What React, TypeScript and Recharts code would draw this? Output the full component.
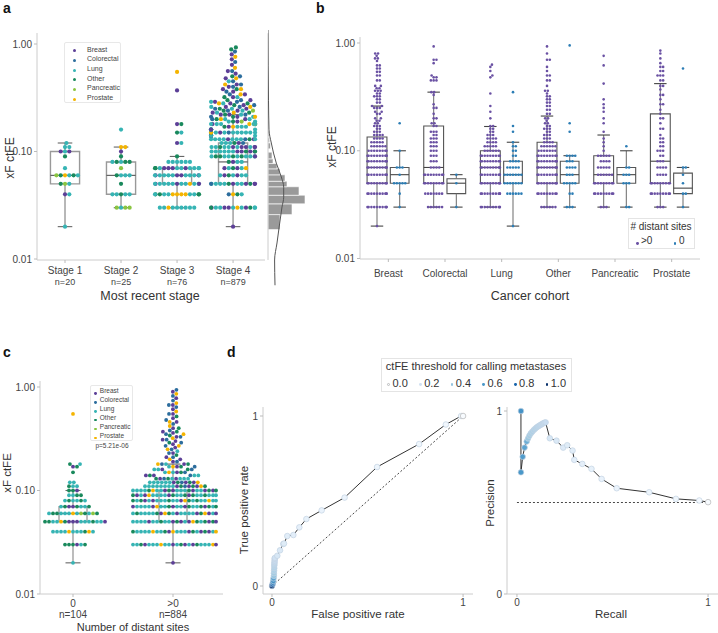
import React from 'react';
import { ScatterChart, Scatter, XAxis, YAxis, ReferenceArea, ReferenceLine } from 'recharts';

const FONT = '"Liberation Sans", Arial, Helvetica, sans-serif';
const TEXT = '#333333';
const AXIS = '#cccccc';
const TICK = { fontSize: 10, fill: '#444444', fontFamily: FONT };

// cancer types
const typeCodes = ['B', 'C', 'L', 'O', 'P', 'S'];
const typeNames = ['Breast', 'Colorectal', 'Lung', 'Other', 'Pancreatic', 'Prostate'];
const typeColors = ['#5c3f97', '#2c6d9d', '#36b4b4', '#19895c', '#8ac541', '#f4b400'];
const colorOf = (c: string) => typeColors[typeCodes.indexOf(c)];

// ---- panel a: xF ctFE by stage (value, cancer types of the dots at that value)
const stageLabels = ['Stage 1', 'Stage 2', 'Stage 3', 'Stage 4'];
const stageN = [20, 25, 76, 879];
const stage1Rows: [number, string][] = [
  [0.02, 'L'], [0.04, 'BL'], [0.05, 'PLO'], [0.06, 'SLOOPL'], [0.07, 'L'],
  [0.09, 'O'], [0.1, 'LBB'], [0.11, 'LL'], [0.12, 'L'],
];
const stage2Rows: [number, string][] = [
  [0.03, 'LPPP'], [0.04, 'OLLLL'], [0.05, 'O'], [0.06, 'LLOL'], [0.07, 'P'],
  [0.08, 'LOOOL'], [0.09, 'O'], [0.1, 'B'], [0.11, 'SS'], [0.16, 'L'],
];
const stage3Rows: [number, string][] = [
  [0.03, 'LLLLSLLLL'], [0.04, 'SSSSLLLLOOOOL'], [0.05, 'BLLLLSLLLLBBL'], [0.06, 'BBLLLLLLLBBLL'],
  [0.07, 'LLBBBLBLLLOLO'], [0.08, 'LLLLLL'], [0.09, 'O'], [0.12, 'BL'], [0.15, 'OL'],
  [0.18, 'BO'], [0.37, 'B'], [0.55, 'S'],
];
const stage4Rows: [number, string][] = [
  [0.02, 'B'], [0.03, 'LSBLBBLOLLBLO'], [0.04, 'SOCL'], [0.05, 'BLOLLBLOLBLBC'], [0.06, 'LBOLBLL'],
  [0.07, 'OBLLBS'], [0.08, 'BLOL'], [0.09, 'OLLOLLOLOLLB'], [0.1, 'LBLBLOLBLBLO'], [0.11, 'BLLBLBOLLBLB'],
  [0.12, 'OLBLCL'], [0.13, 'LLBLLCLOLBLL'], [0.14, 'BLOLCLBL'], [0.15, 'LLCLLLBLLOLS'], [0.16, 'BLLCLOLB'],
  [0.17, 'SLBLOL'], [0.18, 'LSLLBLLCLLSL'], [0.19, 'OBLPL'], [0.2, 'LBSLOC'],
  [0.21, 'OBLCS'], [0.22, 'BLOCB'], [0.23, 'SOLB'], [0.24, 'BCLOP'], [0.25, 'LBOC'], [0.26, 'CBSL'],
  [0.27, 'OBC'], [0.28, 'BLSO'], [0.29, 'CBL'], [0.3, 'OCB'], [0.32, 'BLO'], [0.34, 'CSB'],
  [0.36, 'BC'], [0.38, 'OSB'], [0.4, 'CB'], [0.42, 'BSC'], [0.45, 'CL'], [0.48, 'SB'],
  [0.5, 'OC'], [0.53, 'B'], [0.56, 'CB'], [0.6, 'S'], [0.64, 'B'], [0.68, 'C'],
  [0.72, 'B'], [0.76, 'S'], [0.8, 'B'], [0.85, 'C'], [0.89, 'O'], [0.93, 'O'],
];
const stageRows = [stage1Rows, stage2Rows, stage3Rows, stage4Rows];
const stageLo = [0.02, 0.03, 0.03, 0.02];
const stageQ1 = [0.05, 0.04, 0.05, 0.05];
const stageMed = [0.06, 0.06, 0.06, 0.08];
const stageQ3 = [0.1, 0.08, 0.07, 0.12];
const stageHi = [0.12, 0.11, 0.09, 0.22];

// marginal histogram and density of panel a
const histLo = [0.0188, 0.0259, 0.0326, 0.0392, 0.047, 0.0529, 0.0607, 0.069, 0.0773, 0.0855, 0.106, 0.122, 0.138, 0.16, 0.2, 0.26];
const histHi = [0.0259, 0.0326, 0.0392, 0.047, 0.0529, 0.0607, 0.069, 0.0773, 0.0855, 0.0985, 0.12, 0.134, 0.155, 0.19, 0.24, 0.32];
const histCount = [60, 120, 185, 155, 95, 85, 60, 45, 25, 20, 12, 8, 6, 4, 3, 2];
const kdeValue = [1.35, 0.3, 0.159, 0.12, 0.078, 0.058, 0.0466, 0.0376, 0.0305, 0.0216, 0.0141, 0.0098, 0.0057];
const kdeDensity = [0, 2.5, 5, 16.5, 41.5, 66.5, 78.5, 78.5, 70, 58.5, 45, 33, 35];

// ---- panel b: by cohort, >0 vs 0 distant sites (value, number of dots)
const cohortPos: [number, number][][] = [
  [[0.02, 1], [0.03, 10], [0.04, 10], [0.05, 10], [0.06, 10], [0.07, 10], [0.08, 10], [0.09, 10], [0.1, 8], [0.11, 6],
   [0.12, 5], [0.13, 4], [0.14, 4], [0.15, 3], [0.16, 2], [0.17, 3], [0.18, 2], [0.19, 2], [0.2, 2], [0.22, 2], [0.23, 2],
   [0.25, 3], [0.26, 2], [0.28, 2], [0.3, 2], [0.32, 3], [0.34, 2], [0.36, 3], [0.38, 2], [0.4, 2], [0.45, 2], [0.5, 2],
   [0.54, 2], [0.58, 2], [0.62, 2], [0.68, 1], [0.72, 2], [0.76, 1], [0.8, 2]],
  [[0.03, 6], [0.04, 7], [0.05, 9], [0.06, 9], [0.07, 4], [0.08, 3], [0.09, 3], [0.1, 3], [0.11, 3], [0.12, 3], [0.13, 3],
   [0.14, 2], [0.15, 3], [0.17, 2], [0.18, 2], [0.2, 2], [0.22, 1], [0.25, 2], [0.27, 1], [0.33, 1], [0.35, 2], [0.45, 3],
   [0.48, 2], [0.5, 1], [0.65, 1], [0.7, 2], [0.93, 1]],
  [[0.03, 10], [0.04, 10], [0.05, 10], [0.06, 10], [0.07, 10], [0.08, 9], [0.09, 9], [0.1, 6], [0.11, 5], [0.12, 4],
   [0.13, 4], [0.14, 3], [0.15, 2], [0.16, 2], [0.17, 2], [0.2, 1], [0.23, 1], [0.26, 1], [0.34, 1], [0.48, 1], [0.5, 1],
   [0.55, 1], [0.6, 1], [0.63, 1]],
  [[0.03, 6], [0.04, 9], [0.05, 10], [0.06, 10], [0.07, 10], [0.08, 10], [0.09, 9], [0.1, 7], [0.11, 6], [0.12, 4],
   [0.13, 3], [0.14, 3], [0.15, 2], [0.16, 3], [0.17, 2], [0.18, 2], [0.19, 1], [0.2, 2], [0.22, 2], [0.24, 2], [0.26, 2],
   [0.28, 2], [0.3, 2], [0.32, 2], [0.34, 1], [0.36, 2], [0.4, 1], [0.45, 2], [0.5, 2], [0.55, 1], [0.6, 1], [0.7, 2],
   [0.8, 1], [0.93, 1]],
  [[0.03, 3], [0.04, 9], [0.05, 9], [0.06, 6], [0.07, 5], [0.08, 4], [0.09, 5], [0.1, 1], [0.11, 1], [0.12, 1], [0.13, 1],
   [0.15, 1], [0.18, 1], [0.2, 1], [0.23, 1], [0.25, 1], [0.27, 1], [0.3, 1], [0.42, 1], [0.62, 1], [0.76, 1]],
  [[0.03, 3], [0.04, 9], [0.05, 9], [0.06, 4], [0.07, 4], [0.08, 3], [0.09, 2], [0.1, 3], [0.11, 2], [0.12, 2], [0.13, 2],
   [0.14, 1], [0.16, 2], [0.18, 1], [0.2, 2], [0.22, 1], [0.24, 1], [0.27, 2], [0.3, 1], [0.33, 2], [0.37, 1], [0.4, 2],
   [0.45, 2], [0.5, 3], [0.55, 2], [0.6, 2], [0.65, 1], [0.72, 1], [0.8, 1], [0.85, 1]],
];
const cohortZero: [number, number][][] = [
  [[0.03, 1], [0.04, 1], [0.05, 5], [0.06, 1], [0.07, 3], [0.1, 1], [0.18, 1]],
  [[0.03, 1], [0.05, 1], [0.06, 1]],
  [[0.02, 1], [0.04, 6], [0.05, 7], [0.06, 7], [0.07, 5], [0.08, 4], [0.09, 2], [0.1, 2], [0.11, 2], [0.12, 1], [0.15, 1], [0.17, 1], [0.35, 1]],
  [[0.03, 3], [0.04, 2], [0.05, 5], [0.06, 3], [0.07, 4], [0.08, 3], [0.09, 4], [0.15, 1], [0.18, 1], [0.95, 1]],
  [[0.03, 2], [0.05, 3], [0.06, 3], [0.07, 2], [0.11, 1]],
  [[0.03, 1], [0.04, 2], [0.05, 1], [0.06, 1], [0.07, 2], [0.58, 1]],
];
const posLo = [0.02, 0.03, 0.03, 0.03, 0.03, 0.03];
const posQ1 = [0.05, 0.05, 0.05, 0.05, 0.05, 0.05];
const posMed = [0.07, 0.07, 0.07, 0.07, 0.06, 0.08];
const posQ3 = [0.134, 0.17, 0.1, 0.12, 0.09, 0.22];
const posHi = [0.26, 0.35, 0.168, 0.21, 0.14, 0.42];
const zeroLo = [0.03, 0.03, 0.02, 0.03, 0.03, 0.03];
const zeroQ1 = [0.05, 0.04, 0.05, 0.05, 0.05, 0.04];
const zeroMed = [0.06, 0.05, 0.06, 0.06, 0.06, 0.045];
const zeroQ3 = [0.07, 0.055, 0.08, 0.08, 0.07, 0.062];
const zeroHi = [0.1, 0.06, 0.12, 0.09, 0.1, 0.07];

// ---- panel c: by number of distant sites
const sitesLabels = ['0', '>0'];
const sitesN = [104, 884];
const sitesZeroRows: [number, string][] = [
  [0.02, 'L'], [0.03, 'OBOLOO'], [0.04, 'LLSLLOLSLLL'], [0.05, 'BBBLOLSLLOLLOLOB'], [0.06, 'SLLPLOLLOPOOL'],
  [0.07, 'BOBLOLLO'], [0.08, 'LLOOLL'], [0.09, 'LOLO'], [0.1, 'OBO'], [0.11, 'LLO'], [0.12, 'LL'],
  [0.15, 'O'], [0.17, 'BO'], [0.18, 'OL'], [0.55, 'S'],
];
const sitesPosRows: [number, string][] = [
  [0.02, 'B'],
  [0.03, 'BLLOLBSLLBLOLLBLOLLSLB'], [0.04, 'SLBLOLLBLOSLLBLOLBLLOS'], [0.05, 'BOLBLLOBLSLOBLLOLBLOLB'],
  [0.06, 'LBOLSLBLOLLBLOLSLBOLLB'], [0.07, 'BLOLLBLOSLBLLOLBLOLLBO'], [0.08, 'LLOBLSLOLLBOLLBLOSLLOL'],
  [0.09, 'OLBLLOLBLOLLSLBOLLBLOL'], [0.1, 'BLOLBLLOLBSLOLLBLOLBLO'], [0.11, 'LBLOLCLBLOLBLSLO'],
  [0.12, 'BLOLCLBLOLBLS'], [0.13, 'LBOLCLBLO'], [0.14, 'CBLOLB'], [0.15, 'LBSOLC'], [0.16, 'BOLCL'],
  [0.17, 'SBLOC'], [0.18, 'LBCOS'], [0.19, 'BC'], [0.2, 'SB'], [0.21, 'CB'], [0.22, 'O'],
  [0.23, 'BC'], [0.24, 'L'], [0.25, 'CS'], [0.26, 'B'], [0.27, 'SC'], [0.28, 'B'], [0.29, 'OC'],
  [0.3, 'B'], [0.31, 'CB'], [0.32, 'S'], [0.33, 'BC'], [0.34, 'O'], [0.35, 'CS'], [0.36, 'B'],
  [0.37, 'OB'], [0.38, 'C'], [0.4, 'BO'], [0.42, 'S'], [0.44, 'C'], [0.46, 'SB'], [0.48, 'C'],
  [0.5, 'B'], [0.52, 'O'], [0.55, 'BC'], [0.58, 'S'], [0.61, 'B'], [0.64, 'C'], [0.67, 'BC'],
  [0.7, 'S'], [0.74, 'C'], [0.78, 'B'], [0.82, 'C'], [0.86, 'S'], [0.9, 'B'], [0.94, 'C'],
];
const sitesLo = [0.02, 0.02];
const sitesQ1 = [0.05, 0.05];
const sitesMed = [0.06, 0.07];
const sitesQ3 = [0.07, 0.1];
const sitesHi = [0.1, 0.18];

// ---- panel d: ROC and precision-recall, coloured by ctFE threshold
const rocFpr = [0, 0.003, 0.005, 0.007, 0.008, 0.01, 0.01, 0.011, 0.012, 0.012, 0.013, 0.013, 0.014, 0.014, 0.015,
  0.028, 0.042, 0.059, 0.063, 0.08, 0.112, 0.143, 0.18, 0.26, 0.38, 0.55, 0.77, 0.91, 0.99, 1.0];
const rocTpr = [0, 0.01, 0.02, 0.03, 0.045, 0.06, 0.075, 0.09, 0.105, 0.12, 0.13, 0.14, 0.15, 0.16, 0.165,
  0.178, 0.21, 0.247, 0.25, 0.294, 0.3, 0.345, 0.394, 0.445, 0.52, 0.7, 0.835, 0.95, 1.0, 1.0];
const rocThr = [1.0, 0.85, 0.7, 0.62, 0.55, 0.4, 0.36, 0.33, 0.31, 0.3, 0.28, 0.26, 0.24, 0.22, 0.2,
  0.16, 0.14, 0.13, 0.12, 0.11, 0.1, 0.09, 0.08, 0.07, 0.06, 0.05, 0.04, 0.03, 0.01, 0.0];
const prRecall = [0.021, 0.021, 0.03, 0.04, 0.051, 0.058, 0.065, 0.072, 0.08, 0.088, 0.096, 0.104, 0.112, 0.12, 0.128,
  0.136, 0.143, 0.15, 0.172, 0.207, 0.242, 0.263, 0.291, 0.3, 0.342, 0.39, 0.443, 0.522, 0.692, 0.832, 0.954, 1.0];
const prPrecision = [1.0, 0.665, 0.75, 0.8, 0.833, 0.85, 0.865, 0.877, 0.887, 0.896, 0.904, 0.911, 0.917, 0.922, 0.927,
  0.932, 0.936, 0.938, 0.851, 0.838, 0.8, 0.813, 0.784, 0.733, 0.711, 0.684, 0.629, 0.578, 0.556, 0.52, 0.511, 0.502];
const prThr = [0.62, 0.6, 0.58, 0.55, 0.5, 0.38, 0.36, 0.34, 0.33, 0.32, 0.31, 0.3, 0.29, 0.28, 0.27,
  0.26, 0.25, 0.24, 0.16, 0.14, 0.13, 0.12, 0.11, 0.1, 0.09, 0.08, 0.07, 0.06, 0.05, 0.04, 0.02, 0.0];
const thrLegend = [0.0, 0.2, 0.4, 0.6, 0.8, 1.0];

const blueStops = ['#f7fbff', '#deebf7', '#c6dbef', '#9ecae1', '#6baed6', '#4292c6', '#2171b5', '#08519c', '#08306b'];
function blues(t: number) {
  const s = Math.max(0, Math.min(1, t)) * (blueStops.length - 1);
  const i = Math.min(Math.floor(s), blueStops.length - 2);
  const f = s - i;
  const a = blueStops[i], b = blueStops[i + 1];
  const ch = (h: string, k: number) => parseInt(h.slice(1 + 2 * k, 3 + 2 * k), 16);
  const mix = [0, 1, 2].map((k) => Math.round(ch(a, k) + (ch(b, k) - ch(a, k)) * f));
  return `rgb(${mix.join(',')})`;
}

// beeswarm layout in pixels, gutter clamped at +-hw
type Item = { v: number; color: string };
function swarm(items: Item[], xc: number, P: number, d: number, hw: number) {
  const order = items.map((_, i) => i).sort((a, b) => items[a].v - items[b].v || a - b);
  const placed: { x: number; y: number }[] = [];
  const out: any[] = [];
  for (const i of order) {
    const y = Math.log10(items[i].v) * P;
    const near = placed.filter((p) => Math.abs(p.y - y) < d);
    const cands = [0];
    near.forEach((p) => {
      const s = Math.sqrt(d * d - (p.y - y) ** 2);
      cands.push(p.x + s, p.x - s);
    });
    cands.sort((a, b) => Math.abs(a) - Math.abs(b));
    let best = cands[cands.length - 1];
    for (const c of cands) {
      if (near.every((p) => (p.x - c) ** 2 + (p.y - y) ** 2 >= d * d - 0.01)) { best = c; break; }
    }
    if (Math.abs(best) > hw) best = Math.sign(best) * hw;
    placed.push({ x: best, y });
    out.push({ x: xc, y: items[i].v, dx: best, color: items[i].color });
  }
  return out;
}
const typedItems = (rows: [number, string][]) =>
  rows.flatMap(([v, s]) => s.split('').map((c) => ({ v, color: colorOf(c) })));
const countItems = (rows: [number, number][], color: string) =>
  rows.flatMap(([v, n]) => Array.from({ length: n }, () => ({ v, color })));

const dot = (r: number) => (p: any) => (
  <circle cx={p.cx + (p.payload.dx || 0)} cy={p.cy} r={r} fill={p.payload.color} />
);
const marker = (p: any) => (
  <circle cx={p.cx} cy={p.cy} r={2.8} fill={p.payload.color}
    stroke={p.payload.thr === 0 ? '#b5b5b5' : '#c3d2e3'} strokeWidth={0.7} />
);
const fmt2 = (v: number) => v.toFixed(2);

type BoxStyle = { box: string; w: number; med: string; whisk: string; cap: string };
function boxElements(key: string, cx: number, half: number, cap: number,
  lo: number, q1: number, med: number, q3: number, hi: number, st: BoxStyle) {
  return [
    <ReferenceLine key={key + 'wl'} segment={[{ x: cx, y: q1 }, { x: cx, y: lo }]} stroke={st.whisk} strokeWidth={st.w} />,
    <ReferenceLine key={key + 'wh'} segment={[{ x: cx, y: q3 }, { x: cx, y: hi }]} stroke={st.whisk} strokeWidth={st.w} />,
    <ReferenceLine key={key + 'cl'} segment={[{ x: cx - cap, y: lo }, { x: cx + cap, y: lo }]} stroke={st.cap} strokeWidth={1.1} />,
    <ReferenceLine key={key + 'ch'} segment={[{ x: cx - cap, y: hi }, { x: cx + cap, y: hi }]} stroke={st.cap} strokeWidth={1.1} />,
    <ReferenceArea key={key + 'b'} x1={cx - half} x2={cx + half} y1={q1} y2={q3} fill="none" fillOpacity={0}
      stroke={st.box} strokeWidth={st.w} strokeOpacity={1} />,
    <ReferenceLine key={key + 'm'} segment={[{ x: cx - half, y: med }, { x: cx + half, y: med }]} stroke={st.med} strokeWidth={1.1} />,
  ];
}

function Txt({ x, y, size, children, rotate = false, bold = false, left = false, color = TEXT }: any) {
  return (
    <div style={{
      position: 'absolute', left: x, top: y, fontSize: size, fontFamily: FONT, color, lineHeight: 1,
      whiteSpace: 'nowrap', fontWeight: bold ? 700 : 400,
      transform: `translate(${left ? '0' : '-50%'}, -50%)${rotate ? ' rotate(-90deg)' : ''}`,
    }}>{children}</div>
  );
}
const Dot = ({ size, color, border }: any) => (
  <span style={{ display: 'inline-block', width: size, height: size, borderRadius: '50%', background: color,
    border: border ? `0.6px solid ${border}` : 'none', boxSizing: 'border-box' }} />
);

// ---------------- panel a
const A_LO = 0.00979, A_HI = 1.266, A_P = 227 / (Math.log10(A_HI) - Math.log10(A_LO));
function PanelA() {
  const st: BoxStyle = { box: '#999999', w: 1.4, med: '#555555', whisk: '#999999', cap: '#666666' };
  const stageTick = (p: any) => (
    <g>
      <text x={p.x} y={p.y + 9} textAnchor="middle" fontSize={10} fill="#444" fontFamily={FONT}>{stageLabels[p.payload.value]}</text>
      <text x={p.x} y={p.y + 20} textAnchor="middle" fontSize={9} fill="#444" fontFamily={FONT}>n={stageN[p.payload.value]}</text>
    </g>
  );
  return (
    <div style={{ position: 'absolute', left: 0, top: 0 }}>
      <ScatterChart width={268} height={300} margin={{ top: 33, right: 3, bottom: 0, left: 0 }}>
        <XAxis type="number" dataKey="x" domain={[-0.5, 3.57]} allowDataOverflow ticks={[0, 1, 2, 3]}
          tick={stageTick} tickSize={3} height={40} axisLine={{ stroke: AXIS }} tickLine={{ stroke: '#bbb' }} />
        <YAxis type="number" dataKey="y" scale="log" domain={[A_LO, A_HI]} allowDataOverflow ticks={[0.01, 0.1, 1]}
          tickFormatter={fmt2} width={37} tickSize={3} tick={TICK} axisLine={{ stroke: AXIS }} tickLine={{ stroke: '#bbb' }} />
        {stageLabels.flatMap((_, i) => boxElements('a' + i, i, 0.26, 0.13, stageLo[i], stageQ1[i], stageMed[i], stageQ3[i], stageHi[i], st))}
        {stageRows.map((rows, i) => (
          <Scatter key={i} data={swarm(typedItems(rows), i, A_P, 4.3, 22)} shape={dot(2.1)} isAnimationActive={false} />
        ))}
      </ScatterChart>
    </div>
  );
}

function Marginal() {
  const kde = kdeValue.map((v, i) => ({ x: kdeDensity[i], y: v }));
  return (
    <div style={{ position: 'absolute', left: 262, top: 0 }}>
      <ScatterChart width={50} height={300} margin={{ top: 30, right: 4, bottom: 14, left: 6 }}>
        <XAxis type="number" dataKey="x" domain={[0, 200]} hide allowDataOverflow />
        <YAxis type="number" dataKey="y" scale="log" domain={[0.00561, 1.35]} allowDataOverflow hide width={0} />
        <ReferenceLine segment={[{ x: 0, y: 1.26 }, { x: 0, y: 0.0098 }]} stroke={AXIS} strokeWidth={1} />
        {histCount.map((c, i) => (
          <ReferenceArea key={i} x1={0} x2={c} y1={histLo[i]} y2={histHi[i]} fill="#9a9a9a" fillOpacity={1}
            stroke="#ffffff" strokeWidth={0.6} strokeOpacity={1} />
        ))}
        <Scatter data={kde} line={{ stroke: '#555555', strokeWidth: 1 }} lineJointType="monotoneY"
          shape={() => <g />} isAnimationActive={false} />
      </ScatterChart>
    </div>
  );
}

// ---------------- panel b
const B_LO = 0.0099, B_HI = 1.137, B_P = 222 / (Math.log10(B_HI) - Math.log10(B_LO));
const B_POS = '#6a51a3', B_ZERO = '#2c7db5';
function PanelB() {
  const st: BoxStyle = { box: '#555555', w: 1.1, med: '#444444', whisk: '#777777', cap: '#444444' };
  return (
    <div style={{ position: 'absolute', left: 300, top: 0 }}>
      <ScatterChart width={405} height={310} margin={{ top: 37, right: 5, bottom: 0, left: 0 }}>
        <XAxis type="number" dataKey="x" domain={[-0.5, 5.5]} allowDataOverflow ticks={[0, 1, 2, 3, 4, 5]}
          tickFormatter={(v: number) => typeNames[v]} tick={TICK} tickSize={3} tickMargin={8} height={51}
          axisLine={{ stroke: AXIS }} tickLine={{ stroke: '#bbb' }} />
        <YAxis type="number" dataKey="y" scale="log" domain={[B_LO, B_HI]} allowDataOverflow ticks={[0.01, 0.1, 1]}
          tickFormatter={fmt2} width={60} tickSize={3} tick={TICK} axisLine={{ stroke: AXIS }} tickLine={{ stroke: '#bbb' }} />
        {typeNames.flatMap((_, i) => [
          ...boxElements('bp' + i, i - 0.2, 0.175, 0.11, posLo[i], posQ1[i], posMed[i], posQ3[i], posHi[i], st),
          ...boxElements('bz' + i, i + 0.2, 0.165, 0.11, zeroLo[i], zeroQ1[i], zeroMed[i], zeroQ3[i], zeroHi[i], st),
        ])}
        {cohortPos.map((rows, i) => (
          <Scatter key={'p' + i} data={swarm(countItems(rows, B_POS), i - 0.2, B_P, 2.8, 9.5)} shape={dot(1.3)} isAnimationActive={false} />
        ))}
        {cohortZero.map((rows, i) => (
          <Scatter key={'z' + i} data={swarm(countItems(rows, B_ZERO), i + 0.2, B_P, 2.8, 9)} shape={dot(1.3)} isAnimationActive={false} />
        ))}
      </ScatterChart>
    </div>
  );
}

// ---------------- panel c
const C_LO = 0.01, C_HI = 1.143, C_P = 213 / (Math.log10(C_HI) - Math.log10(C_LO));
function PanelC() {
  const st: BoxStyle = { box: '#999999', w: 1.3, med: '#555555', whisk: '#999999', cap: '#666666' };
  const sitesTick = (p: any) => (
    <g>
      <text x={p.x} y={p.y + 8} textAnchor="middle" fontSize={10} fill="#444" fontFamily={FONT}>{sitesLabels[p.payload.value]}</text>
      <text x={p.x} y={p.y + 19} textAnchor="middle" fontSize={10} fill="#444" fontFamily={FONT}>n={sitesN[p.payload.value]}</text>
    </g>
  );
  const rows = [sitesZeroRows, sitesPosRows];
  return (
    <div style={{ position: 'absolute', left: 0, top: 340 }}>
      <ScatterChart width={228} height={290} margin={{ top: 41, right: 5, bottom: 0, left: 0 }}>
        <XAxis type="number" dataKey="x" domain={[-0.33, 1.5]} allowDataOverflow ticks={[0, 1]}
          tick={sitesTick} tickSize={3} height={36} axisLine={{ stroke: AXIS }} tickLine={{ stroke: '#bbb' }} />
        <YAxis type="number" dataKey="y" scale="log" domain={[C_LO, C_HI]} allowDataOverflow ticks={[0.01, 0.1, 1]}
          tickFormatter={fmt2} width={40} tickSize={3} tick={TICK} axisLine={{ stroke: AXIS }} tickLine={{ stroke: '#bbb' }} />
        {sitesLabels.flatMap((_, i) => boxElements('c' + i, i, 0.14, 0.075, sitesLo[i], sitesQ1[i], sitesMed[i], sitesQ3[i], sitesHi[i], st))}
        {rows.map((r, i) => (
          <Scatter key={i} data={swarm(typedItems(r), i, C_P, 4.0, 43)} shape={dot(1.9)} isAnimationActive={false} />
        ))}
      </ScatterChart>
    </div>
  );
}

// ---------------- panel d
function PanelROC() {
  const pts = rocFpr.map((x, i) => ({ x, y: rocTpr[i], thr: rocThr[i], color: blues(rocThr[i]) }));
  return (
    <div style={{ position: 'absolute', left: 228, top: 400 }}>
      <ScatterChart width={250} height={225} margin={{ top: 7, right: 5, bottom: 0, left: 0 }}>
        <XAxis type="number" dataKey="x" domain={[-0.047, 1.052]} allowDataOverflow ticks={[0, 1]} tick={TICK}
          tickSize={3} height={31} axisLine={{ stroke: AXIS }} tickLine={{ stroke: '#bbb' }} />
        <YAxis type="number" dataKey="y" domain={[-0.047, 1.053]} allowDataOverflow ticks={[0, 1]} tick={TICK}
          tickSize={3} width={35} axisLine={{ stroke: AXIS }} tickLine={{ stroke: '#bbb' }} />
        <ReferenceLine segment={[{ x: 0, y: 0 }, { x: 1, y: 1 }]} stroke="#333" strokeWidth={0.9} strokeDasharray="2 2" />
        <Scatter data={pts} line={{ stroke: '#333333', strokeWidth: 1 }} shape={marker} isAnimationActive={false} />
      </ScatterChart>
    </div>
  );
}
function PanelPR() {
  const pts = prRecall.map((x, i) => ({ x, y: prPrecision[i], thr: prThr[i], color: blues(prThr[i]) }));
  return (
    <div style={{ position: 'absolute', left: 478, top: 400 }}>
      <ScatterChart width={240} height={225} margin={{ top: 7, right: 0, bottom: 0, left: 0 }}>
        <XAxis type="number" dataKey="x" domain={[-0.052, 1.052]} allowDataOverflow ticks={[0, 1]} tick={TICK}
          tickSize={3} height={31} axisLine={{ stroke: AXIS }} tickLine={{ stroke: '#bbb' }} />
        <YAxis type="number" dataKey="y" domain={[0, 1.022]} allowDataOverflow ticks={[0, 1]} tick={TICK}
          tickSize={3} width={29} axisLine={{ stroke: AXIS }} tickLine={{ stroke: '#bbb' }} />
        <ReferenceLine segment={[{ x: 0, y: 0.5 }, { x: 1, y: 0.5 }]} stroke="#333" strokeWidth={0.9} strokeDasharray="2 2" />
        <Scatter data={pts} line={{ stroke: '#333333', strokeWidth: 1 }} shape={marker} isAnimationActive={false} />
      </ScatterChart>
    </div>
  );
}

function TypeLegend({ left, top, width, height, rowH, first, markX, textX, font, dotSize }: any) {
  return (
    <div style={{ position: 'absolute', left, top, width, height, border: '1px solid #e8e8e8', background: 'rgba(255,255,255,0.85)',
      boxSizing: 'border-box', borderRadius: 2 }}>
      {typeNames.map((n, i) => (
        <React.Fragment key={n}>
          <div style={{ position: 'absolute', left: markX - dotSize / 2, top: first + i * rowH - dotSize / 2, lineHeight: 0 }}>
            <Dot size={dotSize} color={typeColors[i]} />
          </div>
          <Txt x={textX} y={first + i * rowH} size={font} left color="#444">{n}</Txt>
        </React.Fragment>
      ))}
    </div>
  );
}

export default function App() {
  return (
    <div style={{ position: 'absolute', left: 0, top: 0, width: 718, height: 633, background: '#fff', overflow: 'hidden', fontFamily: FONT }}>
      <PanelA />
      <Marginal />
      <PanelB />
      <PanelC />
      <PanelROC />
      <PanelPR />

      {/* panel letters */}
      <Txt x={3} y={8} size={14} bold left color="#111">a</Txt>
      <Txt x={316} y={8} size={14} bold left color="#111">b</Txt>
      <Txt x={3} y={352} size={14} bold left color="#111">c</Txt>
      <Txt x={227} y={352} size={14} bold left color="#111">d</Txt>

      {/* axis titles */}
      <Txt x={10} y={158} size={12} rotate>xF ctFE</Txt>
      <Txt x={150} y={296} size={12.5}>Most recent stage</Txt>
      <Txt x={332} y={147} size={12} rotate>xF ctFE</Txt>
      <Txt x={530} y={296} size={12.5}>Cancer cohort</Txt>
      <Txt x={8} y={473} size={11.5} rotate>xF ctFE</Txt>
      <Txt x={133} y={627} size={11}>Number of distant sites</Txt>
      <Txt x={245} y={510} size={11.5} rotate>True positive rate</Txt>
      <Txt x={358} y={615} size={11.5}>False positive rate</Txt>
      <Txt x={491} y={503} size={11.5} rotate>Precision</Txt>
      <Txt x={611} y={615} size={11.5}>Recall</Txt>

      {/* legends */}
      <TypeLegend left={64} top={42} width={57} height={61} rowH={9.66} first={5.7} markX={9} textX={22} font={7} dotSize={3} />
      <TypeLegend left={90} top={385} width={43} height={56} rowH={8.95} first={5} markX={4.5} textX={8.8} font={6.5} dotSize={2.8} />
      <Txt x={112} y={446} size={6.5} color="#444">p=5.21e-06</Txt>

      <div style={{ position: 'absolute', left: 628, top: 218, width: 67, height: 31, border: '1px solid #e4e4e4', boxSizing: 'border-box', background: '#fff' }} />
      <Txt x={661} y={227} size={10}># distant sites</Txt>
      <div style={{ position: 'absolute', left: 636, top: 239.5, lineHeight: 0 }}><Dot size={2.8} color={B_POS} /></div>
      <Txt x={641} y={241} size={10} left>&gt;0</Txt>
      <div style={{ position: 'absolute', left: 673.5, top: 239.5, lineHeight: 0 }}><Dot size={2.8} color={B_ZERO} /></div>
      <Txt x={679} y={241} size={10} left>0</Txt>

      <div style={{ position: 'absolute', left: 381, top: 358, width: 191, height: 34, border: '1px solid #e4e4e4', boxSizing: 'border-box', background: '#fff' }} />
      <Txt x={476} y={366} size={11}>ctFE threshold for calling metastases</Txt>
      {thrLegend.map((t, i) => (
        <React.Fragment key={t}>
          <div style={{ position: 'absolute', left: 387.3 + i * 31.65, top: 380.7, lineHeight: 0 }}>
            <Dot size={2.8} color={blues(t)} border={t === 0 ? '#bbbbbb' : undefined} />
          </div>
          <Txt x={392.5 + i * 31.65} y={382.5} size={11} left>{t.toFixed(1)}</Txt>
        </React.Fragment>
      ))}
    </div>
  );
}
